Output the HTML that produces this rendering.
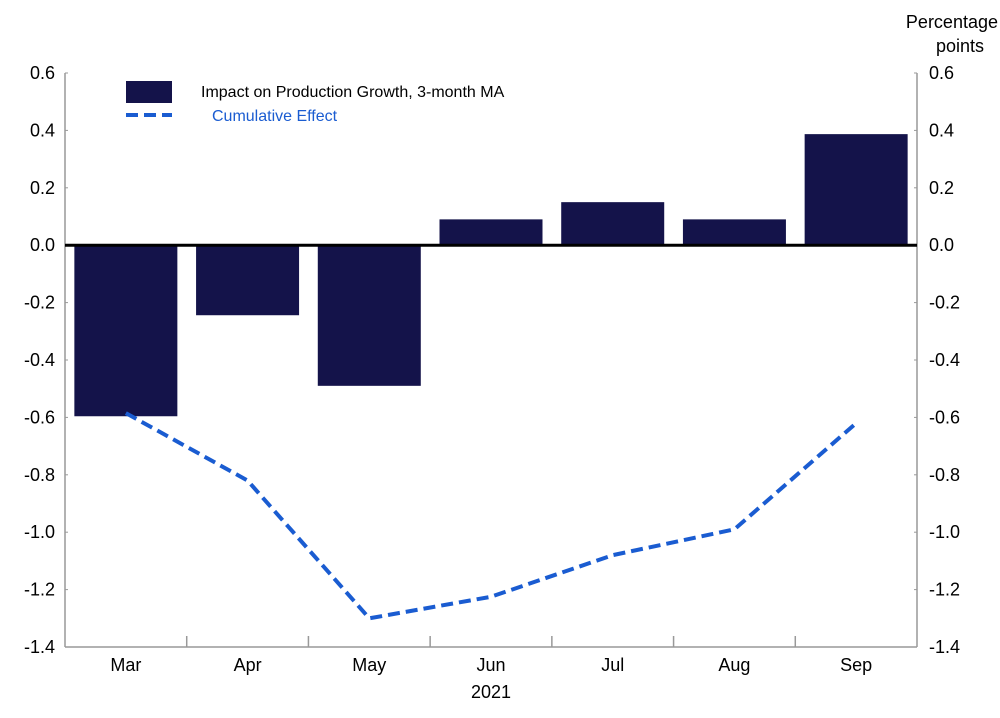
<!DOCTYPE html>
<html><head><meta charset="utf-8"><style>
body{margin:0;background:#fff;}
svg text{font-family:"Liberation Sans",sans-serif;fill:#000;}
</style></head><body>
<svg id="chart" width="1000" height="713" xmlns="http://www.w3.org/2000/svg"></svg>
<script>
const categories=["Mar","Apr","May","Jun","Jul","Aug","Sep"];
const barValues=[-0.596,-0.244,-0.49,0.09,0.15,0.09,0.387];
const lineValues=[-0.585,-0.82,-1.30,-1.225,-1.08,-0.99,-0.62];
const yTicks=[0.6,0.4,0.2,0.0,-0.2,-0.4,-0.6,-0.8,-1.0,-1.2,-1.4];

const svg=document.getElementById('chart');
const NS="http://www.w3.org/2000/svg";
const L=65,R=917,T=73,B=647,yMin=-1.4,yMax=0.6;
const AX='#999';
const y=v=>T+(yMax-v)/(yMax-yMin)*(B-T);
const bw=(R-L)/categories.length;
const xc=i=>L+bw*(i+0.5);
function mk(tag,attrs,parent){const e=document.createElementNS(NS,tag);for(const k in attrs)e.setAttribute(k,attrs[k]);(parent||svg).appendChild(e);return e;}

let a=mk('line',{x1:L,y1:T,x2:L,y2:B,stroke:AX,'stroke-width':1.5});


a=mk('line',{x1:R,y1:T,x2:R,y2:B,stroke:AX,'stroke-width':1.5});


a=mk('line',{x1:L,y1:B,x2:R,y2:B,stroke:AX,'stroke-width':1.5});



yTicks.forEach(v=>{
  const t=v.toFixed(1);
  let e=mk('text',{x:L-10,y:y(v)+6,'text-anchor':'end','font-size':18});
  e.textContent=t;
  
  
  e=mk('text',{x:R+12,y:y(v)+6,'text-anchor':'start','font-size':18});
  e.textContent=t;
  
  
  mk('line',{x1:L,y1:y(v),x2:L+3,y2:y(v),stroke:AX});
  mk('line',{x1:R-3,y1:y(v),x2:R,y2:y(v),stroke:AX});
});

barValues.forEach((v,i)=>{
  const w=103;
  const r=mk('rect',{x:xc(i)-w/2,y:Math.min(y(v),y(0)),width:w,height:Math.abs(y(v)-y(0)),fill:'#14134a'});
  
  
});
a=mk('line',{x1:L,y1:y(0),x2:R,y2:y(0),stroke:'#000','stroke-width':3});



categories.forEach((c,i)=>{
  const e=mk('text',{x:xc(i),y:B+24,'text-anchor':'middle','font-size':18});
  e.textContent=c;
  
  
  if(i>0) mk('line',{x1:L+bw*i,y1:B-11,x2:L+bw*i,y2:B,stroke:AX,'stroke-width':1.5});
});
let yr=mk('text',{x:(L+R)/2,y:B+51,'text-anchor':'middle','font-size':18});
yr.textContent='2021';



const pts=lineValues.map((v,i)=>xc(i)+','+y(v)).join(' ');
const pl=mk('polyline',{points:pts,fill:'none',stroke:'#1a5cd1','stroke-width':4,'stroke-dasharray':'12,6'});



let u=mk('text',{x:998,y:28,'text-anchor':'end','font-size':18});u.textContent='Percentage';


u=mk('text',{x:984,y:52,'text-anchor':'end','font-size':18});u.textContent='points';



const g=mk('g',{});


mk('rect',{x:126,y:81,width:46,height:22,fill:'#14134a'},g);
let lt=mk('text',{x:201,y:97,'font-size':16},g);lt.textContent='Impact on Production Growth, 3-month MA';


mk('line',{x1:126,y1:115,x2:172,y2:115,stroke:'#1a5cd1','stroke-width':4,'stroke-dasharray':'12,6'},g);
lt=mk('text',{x:212,y:121,'font-size':16},g);lt.textContent='Cumulative Effect';
lt.style.fill='#1a5cd1';


</script>
</body></html>
